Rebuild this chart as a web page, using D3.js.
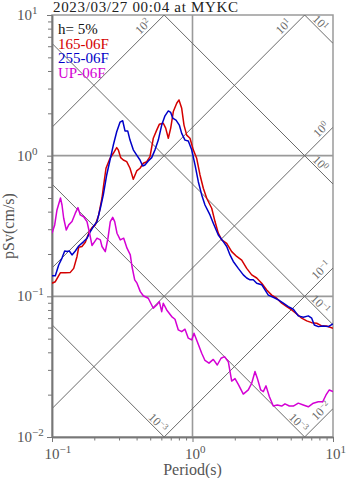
<!DOCTYPE html>
<html><head><meta charset="utf-8">
<script src="https://cdn.jsdelivr.net/npm/d3@7"></script>
<style>body{margin:0;background:#fff}svg{display:block}</style>
</head><body><svg id="c" width="347" height="478"></svg>
<script>
const titleText = "2023/03/27 00:04 at MYKC";
const dampingLabel = "h= 5%";
const seriesNames = ["165-06F", "255-06F", "UP-06F"];
const seriesColors = ["#d40000", "#0000c8", "#d400d4"];

const period165 = [0.1,0.1056,0.1146,0.1243,0.135,0.1427,0.1507,0.1549,0.1634,0.1726,0.1825,0.1926,0.2033,0.215,0.2269,0.2333,0.2423,0.2588,0.2732,0.2888,0.2963,0.3083,0.3218,0.3402,0.3591,0.379,0.4007,0.423,0.4466,0.4721,0.4983,0.526,0.5561,0.5804,0.6196,0.6445,0.6727,0.6997,0.7302,0.7721,0.8014,0.8378,0.87,0.9094,0.9598,1.013,1.071,1.131,1.194,1.262,1.37,1.446,1.526,1.614,1.752,1.901,2.064,2.24,2.431,2.639,2.864,3.108,3.375,3.662,3.975,4.314,4.683,5.082,5.515,5.987,6.499,7.053,7.656,8.31,9.02,10];
const psv165 = [0.124,0.127,0.147,0.147,0.148,0.158,0.192,0.223,0.226,0.242,0.281,0.308,0.322,0.379,0.5,0.619,0.814,0.958,1.04,1.14,1.1,0.968,0.932,0.906,0.814,0.68,0.779,0.814,0.883,0.906,0.984,1.33,1.52,1.67,1.7,1.57,1.33,1.57,2.06,2.36,2.49,2.17,1.65,1.4,1.33,1.1,0.958,0.729,0.587,0.498,0.423,0.34,0.281,0.252,0.238,0.208,0.192,0.181,0.158,0.142,0.135,0.124,0.111,0.102,0.0969,0.0893,0.0845,0.08,0.075,0.0699,0.0669,0.065,0.0644,0.0616,0.0616,0.0593];

const period255 = [0.1,0.1056,0.1116,0.1178,0.1231,0.1279,0.1328,0.1388,0.1465,0.1549,0.1681,0.1775,0.1874,0.1981,0.2091,0.2208,0.2318,0.2451,0.2588,0.2732,0.2888,0.3048,0.3186,0.3308,0.3458,0.3591,0.379,0.4007,0.423,0.4419,0.4589,0.4845,0.5124,0.5409,0.5709,0.6036,0.6371,0.6727,0.6997,0.723,0.7633,0.8057,0.8378,0.8843,0.9335,0.987,1.042,1.1,1.163,1.227,1.332,1.406,1.526,1.657,1.752,1.849,1.951,2.118,2.299,2.431,2.566,2.708,2.864,3.108,3.281,3.463,3.759,4.08,4.43,4.808,5.218,5.662,6.145,6.672,7.053,7.362,7.858,8.531,9.26,10];
const psv255 = [0.14,0.14,0.167,0.187,0.21,0.208,0.21,0.197,0.21,0.228,0.245,0.259,0.288,0.316,0.34,0.423,0.526,0.729,0.932,1.19,1.48,1.73,1.77,1.5,1.5,1.29,1.1,1.01,0.932,0.845,0.859,0.917,0.968,1.1,1.29,1.65,1.92,2.08,2.03,1.85,1.79,1.65,1.44,1.29,1.27,1.1,0.859,0.653,0.526,0.446,0.379,0.331,0.273,0.245,0.226,0.197,0.177,0.158,0.142,0.135,0.131,0.131,0.124,0.121,0.111,0.102,0.0985,0.0943,0.0893,0.0845,0.0809,0.0726,0.071,0.0726,0.0699,0.0626,0.0609,0.0616,0.0609,0.0637];

const periodUP = [0.1,0.1045,0.1085,0.1149,0.1178,0.1211,0.1264,0.1315,0.1388,0.1465,0.1531,0.159,0.1681,0.1775,0.1842,0.1926,0.2013,0.2091,0.2208,0.2269,0.2395,0.2503,0.26,0.2704,0.2794,0.2901,0.3062,0.3238,0.3418,0.3608,0.3709,0.3878,0.4027,0.4251,0.4466,0.4845,0.526,0.5561,0.5804,0.6036,0.6196,0.6553,0.7112,0.7506,0.7925,0.8378,0.8843,0.9335,0.987,1.025,1.082,1.163,1.227,1.31,1.406,1.501,1.596,1.69,1.798,1.901,2.007,2.118,2.299,2.495,2.639,2.785,2.892,3.058,3.191,3.336,3.521,3.759,4.013,4.314,4.552,4.887,5.218,5.662,6.145,6.672,7.243,7.858,8.448,8.917,9.412,10];
const psvUP = [0.281,0.322,0.411,0.5,0.446,0.359,0.296,0.322,0.34,0.39,0.427,0.379,0.368,0.34,0.288,0.23,0.245,0.259,0.252,0.226,0.208,0.259,0.34,0.364,0.34,0.281,0.252,0.259,0.22,0.197,0.163,0.131,0.124,0.108,0.101,0.0969,0.0823,0.0869,0.0917,0.0778,0.0893,0.08,0.0718,0.0687,0.0577,0.0561,0.0584,0.0504,0.049,0.0547,0.0476,0.0394,0.035,0.0335,0.0356,0.0325,0.0363,0.0373,0.0343,0.025,0.026,0.0237,0.0202,0.0216,0.0241,0.0292,0.0262,0.0216,0.021,0.0231,0.0194,0.0166,0.0169,0.0166,0.0172,0.0166,0.0166,0.0174,0.0169,0.0164,0.0174,0.0178,0.0178,0.0199,0.0216,0.021];

const xTickExponents = ["-1", "0", "1"];
const yTickExponents = ["-2", "-1", "0", "1"];
// tripartite grid: acceleration (cm/s^2) and displacement (cm) levels, log10
const accelExponents = [2, 1, 0, -1, -2];
const accelLabels = ["2", "1", "0", "-1", "-2"];
const dispExponents = [1, 0, -1, -2, -3];
const dispLabels = ["1", "0", "-1", "-3", "-3"];
const xAxisTitle = "Period(s)";
const yAxisTitle = "pSv(cm/s)";

const svg = d3.select("#c");
const L = 52, R = 333, T = 15, B = 437;
const x = d3.scaleLog().domain([0.1, 10]).range([L, R]);
const y = d3.scaleLog().domain([0.01, 10]).range([B, T]);
const serif = "'Liberation Serif','Times New Roman',serif";

svg.append("clipPath").attr("id", "clip").append("rect")
  .attr("x", L).attr("y", T).attr("width", R - L).attr("height", B - T);

// frame + grid
svg.append("rect").attr("x", L).attr("y", T).attr("width", R - L).attr("height", B - T)
  .attr("fill", "none").attr("stroke", "#9a9a9a").attr("stroke-width", 1.5);
const gx = svg.append("g");
[1].forEach(v => gx.append("line").attr("x1", x(v)).attr("x2", x(v)).attr("y1", T).attr("y2", B)
  .attr("stroke", "#9a9a9a").attr("stroke-width", 1.6));
[1, 0.1].forEach(v => gx.append("line").attr("x1", L).attr("x2", R).attr("y1", y(v)).attr("y2", y(v))
  .attr("stroke", "#9a9a9a").attr("stroke-width", 1.6));

// diagonals
const TWO_PI = 2 * Math.PI;
const diag = svg.append("g").attr("clip-path", "url(#clip)");
const labG = svg.append("g").attr("fill", "#6a6a6a").attr("font-family", serif).attr("font-size", 12);
const s2 = Math.SQRT1_2;
function addLabel(cx, cy, rot, expo) {
  const t = labG.append("text").attr("transform", `translate(${cx},${cy}) rotate(${rot})`)
    .attr("text-anchor", "middle").attr("dy", "0.35em");
  t.append("tspan").text("10");
  t.append("tspan").attr("dy", "-0.45em").attr("font-size", 8.5).text(expo.replace("-", "\u2212"));
}
accelExponents.forEach((e, i) => {
  const A = Math.pow(10, e);
  diag.append("line").attr("x1", x(0.1)).attr("y1", y(A * 0.1 / TWO_PI))
    .attr("x2", x(10)).attr("y2", y(A * 10 / TWO_PI))
    .attr("stroke", "#6a6a6a").attr("stroke-width", 1);
  let tTop = TWO_PI * 10 / A, ex, ey, d;
  if (tTop <= 10) { ex = x(tTop); ey = y(10); d = 23; } else { ex = x(10); ey = y(A * 10 / TWO_PI); d = 10; }
  const p = 7.2;
  const cx = ex - d * s2 - p * s2, cy = ey + d * s2 - p * s2;
  addLabel(cx, cy, -45, accelLabels[i]);
});
dispExponents.forEach((e, i) => {
  const D = Math.pow(10, e);
  diag.append("line").attr("x1", x(0.1)).attr("y1", y(TWO_PI * D / 0.1))
    .attr("x2", x(10)).attr("y2", y(TWO_PI * D / 10))
    .attr("stroke", "#6a6a6a").attr("stroke-width", 1);
  let vR = TWO_PI * D / 10, ex, ey, d;
  if (vR >= 0.01) { ex = x(10); ey = y(vR); d = 23.5; } else { ex = x(TWO_PI * D / 0.01); ey = y(0.01); d = 14.5; }
  const p = 6;
  const cx = ex - d * s2 + p * s2, cy = ey - d * s2 - p * s2;
  addLabel(cx, cy, 45, dispLabels[i]);
});

// axes
const majorY = [0.01, 0.1, 1, 10];
const minorX = [], minorY = [];
[0.1, 1].forEach(b => { for (let k = 2; k <= 9; k++) minorX.push(b * k); });
[0.01, 0.1, 1].forEach(b => { for (let k = 2; k <= 9; k++) minorY.push(b * k); });
function styleAxis(g) {
  g.select(".domain").attr("stroke", "#777").attr("stroke-width", 1.5);
  g.selectAll(".tick line").attr("stroke", "#777").attr("stroke-width", 1);
  g.selectAll(".tick text").remove();
}
svg.append("g").attr("transform", `translate(0,${B})`)
  .call(d3.axisBottom(x).tickValues([0.1, 1, 10]).tickSize(5).tickSizeOuter(0).tickFormat(() => "")).call(styleAxis);
svg.append("g").attr("transform", `translate(0,${B})`)
  .call(d3.axisBottom(x).tickValues(minorX).tickSize(3.5).tickSizeOuter(0).tickFormat(() => "")).call(styleAxis);
svg.append("g").attr("transform", `translate(${L},0)`)
  .call(d3.axisLeft(y).tickValues(majorY).tickSize(5).tickSizeOuter(0).tickFormat(() => "")).call(styleAxis);
svg.append("g").attr("transform", `translate(${L},0)`)
  .call(d3.axisLeft(y).tickValues(minorY).tickSize(4).tickSizeOuter(0).tickFormat(() => "")).call(styleAxis);

const tickG = svg.append("g").attr("fill", "#555").attr("font-family", serif).attr("font-size", 15);
[0.1, 1, 10].forEach((v, i) => {
  const t = tickG.append("text").attr("x", x(v) - 7.5).attr("y", B + 22);
  t.append("tspan").text("10");
  t.append("tspan").attr("dy", -6).attr("font-size", 11).text(xTickExponents[i].replace("-", "\u2212"));
});
majorY.forEach((v, i) => {
  const t = tickG.append("text").attr("x", 17).attr("y", y(v) + 5);
  t.append("tspan").text("10");
  t.append("tspan").attr("dy", -6).attr("font-size", 11).text(yTickExponents[i].replace("-", "\u2212"));
});

// axis titles
svg.append("text").attr("x", (L + R) / 2).attr("y", 475).attr("text-anchor", "middle")
  .attr("font-family", serif).attr("font-size", 16).attr("fill", "#555").text(xAxisTitle);
svg.append("text").attr("transform", `translate(14,${(T + B) / 2}) rotate(-90)`).attr("text-anchor", "middle")
  .attr("font-family", serif).attr("font-size", 16).attr("fill", "#555").text(yAxisTitle);

// series
const line = d3.line().x(d => x(d[0])).y(d => y(d[1]));
const seriesData = [d3.zip(period165, psv165), d3.zip(period255, psv255), d3.zip(periodUP, psvUP)];
const sg = svg.append("g").attr("clip-path", "url(#clip)");
seriesData.forEach((d, i) => sg.append("path").datum(d).attr("d", line)
  .attr("fill", "none").attr("stroke", seriesColors[i]).attr("stroke-width", 1.5).attr("stroke-linejoin", "round"));

// title
svg.append("text").attr("x", 53).attr("y", 12).attr("font-family", serif).attr("font-size", 15)
  .attr("fill", "#222").attr("textLength", 185).attr("lengthAdjust", "spacing").text(titleText);

// legend
const lg = svg.append("g").attr("font-family", serif).attr("font-size", 15);
lg.append("text").attr("x", 58).attr("y", 34).attr("fill", "#111").text(dampingLabel);
seriesNames.forEach((n, i) => lg.append("text").attr("x", 58).attr("y", 48.5 + i * 14.5)
  .attr("fill", seriesColors[i]).text(n));
</script></body></html>
